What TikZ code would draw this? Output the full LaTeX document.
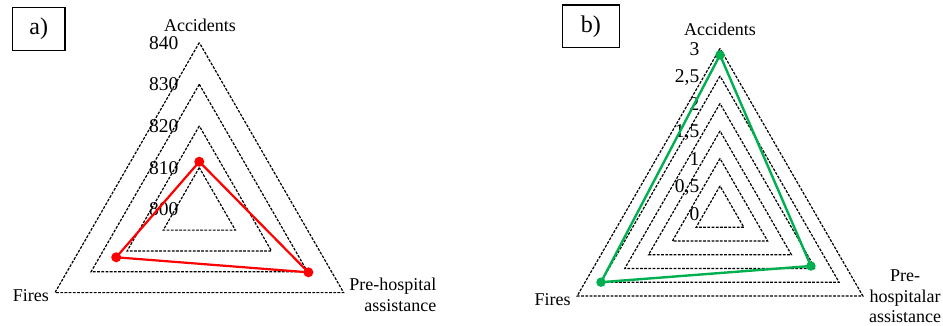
\documentclass[tikz,border=0pt]{standalone}
\usepackage{fontspec}
\setmainfont{Liberation Serif}
\definecolor{seriesgreen}{HTML}{00B050}
\begin{document}
\begin{tikzpicture}[x=1pt,y=-1pt,
  grid/.style={draw=black,line width=1.2pt,dash pattern=on 2.8pt off 1.4pt},
  axislabel/.style={font=\fontsize{18}{21}\selectfont,inner sep=0pt},
  scalelabel/.style={font=\fontsize{19.5}{21}\selectfont,inner sep=0pt,anchor=base east},
  panelbox/.style={draw=black,line width=1.3pt,inner sep=0pt,font=\fontsize{24}{26}\selectfont},
  dotA/.style={circle,fill=red,draw=none,inner sep=0pt,minimum size=10pt},
  dotB/.style={circle,fill=seriesgreen,draw=none,inner sep=0pt,minimum size=9.5pt},
  seriesA/.style={draw=red,line width=2.2pt,line join=round},
  seriesB/.style={draw=seriesgreen,line width=2.4pt,line join=round},
]
\useasboundingbox (0,0) rectangle (943,326);

% ---------- panel a) ----------
\node[panelbox,minimum width=52.3pt,minimum height=43.4pt] (boxa) at (38.8,29) {a)};

\foreach \k in {1,...,4}{
  \pgfmathsetmacro\r{41.67*\k}
  \draw[grid] (199.3,209.3-\r) -- (199.3-0.866*\r,209.3+0.5*\r)
     -- (199.3+0.866*\r,209.3+0.5*\r) -- cycle;
}
\foreach \v [count=\k from 0] in {800,810,820,830,840}{
  \node[scalelabel] (sa\k) at (178.5,209.3-41.67*\k+6.6) {\v};
}

\node[axislabel,anchor=base] (accA) at (200,31.7) {Accidents};
\node[axislabel,anchor=base east] (firA) at (49,301.7) {Fires};
\node[axislabel,anchor=north east,align=right] (preA) at (436.5,277.7) {Pre-hospital\\assistance};

\node[dotA] (pa1) at (199.3,161.7) {};
\node[dotA] (pa2) at (116.2,257.3) {};
\node[dotA] (pa3) at (308.4,272.3) {};
\draw[seriesA] (pa1.center) -- (pa2.center) -- (pa3.center) -- cycle;

% ---------- panel b) ----------
\node[panelbox,minimum width=57pt,minimum height=42.7pt] (boxb) at (590.8,26.3) {b)};

\foreach \k in {1,...,6}{
  \pgfmathsetmacro\r{27.5*\k}
  \draw[grid] (720,213.5-\r) -- (720-0.866*\r,213.5+0.5*\r)
     -- (720+0.866*\r,213.5+0.5*\r) -- cycle;
}
\foreach \v [count=\k from 0] in {0,{0,5},1,{1,5},2,{2,5},3}{
  \node[scalelabel] (sb\k) at (699.5,213.5-27.5*\k+6.6) {\v};
}

\node[axislabel,anchor=base] (accB) at (720,36) {Accidents};
\node[axislabel,anchor=base east] (firB) at (570.7,305) {Fires};
\node[axislabel,anchor=north,align=center,font=\fontsize{18}{20.5}\selectfont] (preB) at (905,270) {Pre-\\hospitalar\\assistance};

\node[dotB] (pb1) at (720,55) {};
\node[dotB] (pb2) at (601,282.2) {};
\node[dotB] (pb3) at (810.9,266) {};
\draw[seriesB] (pb1.center) -- (pb2.center) -- (pb3.center) -- cycle;

\end{tikzpicture}
\end{document}
